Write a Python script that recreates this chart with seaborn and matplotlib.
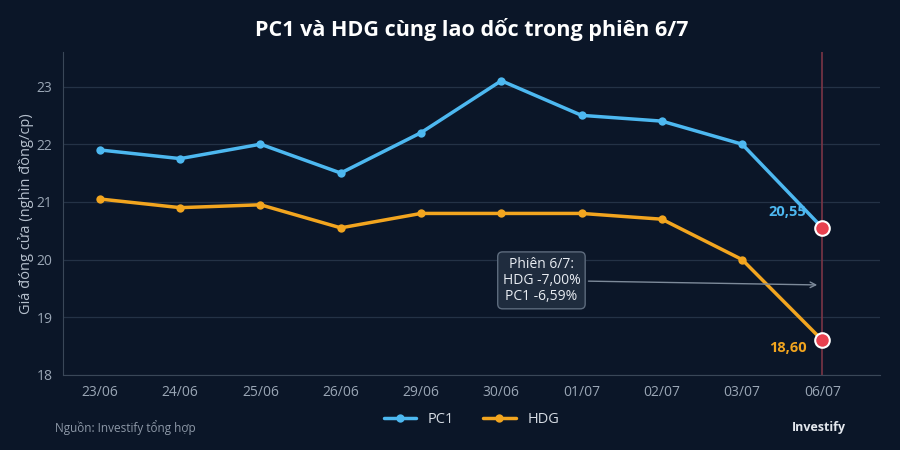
import numpy as np
import pandas as pd
import seaborn as sns
from matplotlib import pyplot as plt

# Data
dates = ['23/06', '24/06', '25/06', '26/06', '29/06', '30/06', '01/07', '02/07', '03/07', '06/07']
pc1 = [21.9, 21.75, 22.0, 21.5, 22.2, 23.1, 22.5, 22.4, 22.0, 20.55]
hdg = [21.05, 20.9, 20.95, 20.55, 20.8, 20.8, 20.8, 20.7, 20.0, 18.6]
yticks = [18, 19, 20, 21, 22, 23]

bg = '#0b1628'
c_pc1 = '#4db8f0'
c_hdg = '#f2a51f'
c_red = '#e8414f'

df = pd.DataFrame({'date': dates * 2,
                   'price': pc1 + hdg,
                   'code': ['PC1'] * len(dates) + ['HDG'] * len(dates)})
df['pos'] = list(range(len(dates))) * 2

sns.set_theme(style='dark')
plt.rcParams['font.family'] = ['Open Sans', 'DejaVu Sans']

fig = plt.figure(figsize=(9, 4.5), dpi=100, facecolor=bg)
ax = fig.add_axes([0.07, 0.1667, 0.908, 0.718])
ax.set_facecolor(bg)

ax.axvline(len(dates) - 1, color='#7a3545', lw=1.2, zorder=1)

sns.lineplot(data=df, x='pos', y='price', hue='code', palette={'PC1': c_pc1, 'HDG': c_hdg},
             marker='o', markersize=6, markeredgewidth=0, lw=2.5, ax=ax, zorder=3)

# highlight last session
last = len(dates) - 1
ax.scatter([last, last], [pc1[-1], hdg[-1]], s=110, color=c_red, edgecolor='white',
           linewidth=1.5, zorder=5)
ax.text(last - 0.2, pc1[-1] + 0.28, f'{pc1[-1]:.2f}'.replace('.', ','), color=c_pc1,
        fontsize=10.5, fontweight='bold', ha='right', va='center')
ax.text(last - 0.2, hdg[-1] - 0.13, f'{hdg[-1]:.2f}'.replace('.', ','), color=c_hdg,
        fontsize=10.5, fontweight='bold', ha='right', va='center')

ax.annotate('Phiên 6/7:\nHDG -7,00%\nPC1 -6,59%', xy=(last - 0.03, 19.56), xytext=(5.5, 19.64),
            color='#e8ecf2', fontsize=10, ha='center', va='center', linespacing=1.1,
            bbox=dict(boxstyle='round,pad=0.35', fc='#1f2c3e', ec='#5d6b7d', lw=1),
            arrowprops=dict(arrowstyle='->', color='#7d8a9a', lw=1), zorder=6)

ax.set_xlim(-0.46, 9.72)
ax.set_ylim(18, 23.6)
ax.set_xticks(range(len(dates)))
ax.set_xticklabels(dates)
ax.set_yticks(yticks)
ax.grid(axis='y', color='#243246', lw=0.9)
ax.grid(axis='x', visible=False)
ax.tick_params(colors='#9aa6b5', labelsize=10, length=4, width=0.8, color='#3a4758')
for side in ['top', 'right']:
    ax.spines[side].set_visible(False)
for side in ['left', 'bottom']:
    ax.spines[side].set_color('#3a4758')
    ax.spines[side].set_linewidth(0.8)

ax.set_xlabel('')
ax.set_ylabel('Giá đóng cửa (nghìn đồng/cp)', color='#b5bfcc', fontsize=10.5, labelpad=2)

leg = ax.legend(loc='upper center', bbox_to_anchor=(0.5, -0.075), ncol=2, frameon=False,
                fontsize=10.5, handlelength=2.2, columnspacing=2)
for t in leg.get_texts():
    t.set_color('#d5dbe3')

fig.text(0.524, 0.935, 'PC1 và HDG cùng lao dốc trong phiên 6/7', color='white',
         fontsize=15.5, fontweight='bold', ha='center', va='center')
fig.text(0.061, 0.049, 'Nguồn: Investify tổng hợp', color='#8d98a7', fontsize=8.5,
         ha='left', va='center')
fig.text(0.94, 0.049, 'Investify', color='#e3e7ed', fontsize=9, fontweight='bold',
         ha='right', va='center')

fig.savefig('out.png', dpi=100, facecolor=bg)
